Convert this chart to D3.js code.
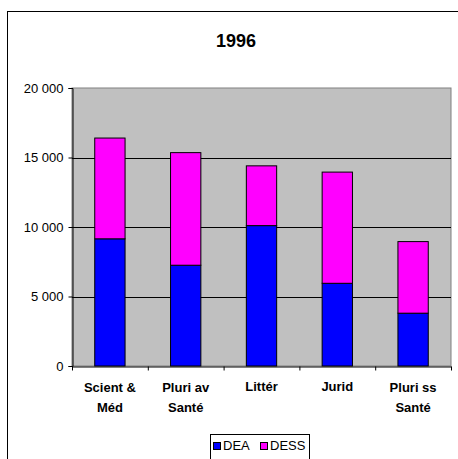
<!DOCTYPE html>
<html><head><meta charset="utf-8">
<script src="https://cdn.jsdelivr.net/npm/d3@7"></script>
<style>body{margin:0;background:#fff;}svg{display:block;font-family:"Liberation Sans",Arial,sans-serif;}</style>
</head><body>
<svg id="c" width="458" height="459"></svg>
<script>
const categories = [["Scient &","Méd"],["Pluri av","Santé"],["Littér"],["Jurid"],["Pluri ss","Santé"]];
const dea = [9150, 7250, 10100, 5950, 3800];
const dess = [7250, 8100, 4300, 8000, 5150];
const yTicks = [0, 5000, 10000, 15000, 20000];
const yTickLabels = ["0", "5 000", "10 000", "15 000", "20 000"];
const seriesNames = ["DEA", "DESS"];
const colors = ["#0000FF", "#FF00FF"];
const title = "1996";

const svg = d3.select("#c");
// outer frame
svg.append("rect").attr("x",7.5).attr("y",11.5).attr("width",470).attr("height",470)
  .attr("fill","#fff").attr("stroke","#000").attr("stroke-width",1);

const L=72, R=451, T=88, B=366;
const x = d3.scaleBand().domain(d3.range(categories.length)).range([L,R]).paddingInner(0).paddingOuter(0);
const y = d3.scaleLinear().domain([0,20000]).range([B,T]);

svg.append("rect").attr("x",L).attr("y",T).attr("width",R-L).attr("height",B-T)
  .attr("fill","#C0C0C0").attr("stroke","#808080").attr("stroke-width",1);

// gridlines
svg.append("g").selectAll("line").data(yTicks.filter(v=>v>0 && v<20000)).join("line")
  .attr("x1",L).attr("x2",R).attr("y1",d=>Math.round(y(d))+0.5).attr("y2",d=>Math.round(y(d))+0.5)
  .attr("stroke","#000").attr("stroke-width",1);

// bars
const stacked = categories.map((c,i)=>[[0,dea[i]],[dea[i],dea[i]+dess[i]]]);
const bw = x.bandwidth()*0.4;
[0,1].forEach(s=>{
  svg.append("g").selectAll("rect").data(stacked).join("rect")
    .attr("x",(d,i)=>x(i)+x.bandwidth()/2-bw/2)
    .attr("y",d=>y(d[s][1]))
    .attr("width",bw)
    .attr("height",d=>y(d[s][0])-y(d[s][1]))
    .attr("fill",colors[s]).attr("stroke","#000").attr("stroke-width",1);
});

// y axis
const yAxis = d3.axisLeft(y).tickValues(yTicks).tickFormat((d,i)=>yTickLabels[i]).tickSize(4).tickPadding(5);
const gy = svg.append("g").attr("transform",`translate(${L+0.5},0)`).call(yAxis);
gy.select(".domain").attr("stroke","#000");
gy.selectAll(".tick line").attr("stroke","#000");
gy.selectAll("text").attr("font-size",13).attr("fill","#000").attr("font-family","Liberation Sans, Arial, sans-serif");

// x axis
const xb = d3.scaleLinear().domain([0,categories.length]).range([L,R]);
const gx = svg.append("g").attr("transform",`translate(0,${B+0.5})`)
  .call(d3.axisBottom(xb).tickValues(d3.range(categories.length+1)).tickFormat("").tickSize(4).tickSizeOuter(0));
gx.select(".domain").attr("stroke","#000");
gx.selectAll(".tick line").attr("stroke","#000");

const lab = svg.append("g").selectAll("text").data(categories).join("text")
  .attr("x",(d,i)=>x(i)+x.bandwidth()/2)
  .attr("y",(d)=>d.length>1?392:391)
  .attr("text-anchor","middle").attr("font-size",13).attr("font-weight","bold").attr("fill","#000");
lab.each(function(d){
  const t=d3.select(this);
  d.forEach((line,k)=>t.append("tspan").attr("x",t.attr("x")).attr("dy",k===0?0:20).text(line));
});

// title
svg.append("text").attr("x",236).attr("y",47).attr("text-anchor","middle")
  .attr("font-size",18).attr("font-weight","bold").text(title);

// legend
const lg = svg.append("g");
lg.append("rect").attr("x",210.5).attr("y",434.5).attr("width",99).attr("height",30)
  .attr("fill","#fff").attr("stroke","#000");
const legX = [213, 260];
seriesNames.forEach((n,i)=>{
  lg.append("rect").attr("x",legX[i]+0.5).attr("y",442.5).attr("width",7).attr("height",7)
    .attr("fill",colors[i]).attr("stroke","#000");
  lg.append("text").attr("x",legX[i]+10).attr("y",450).attr("font-size",13).text(n);
});
</script>
</body></html>
